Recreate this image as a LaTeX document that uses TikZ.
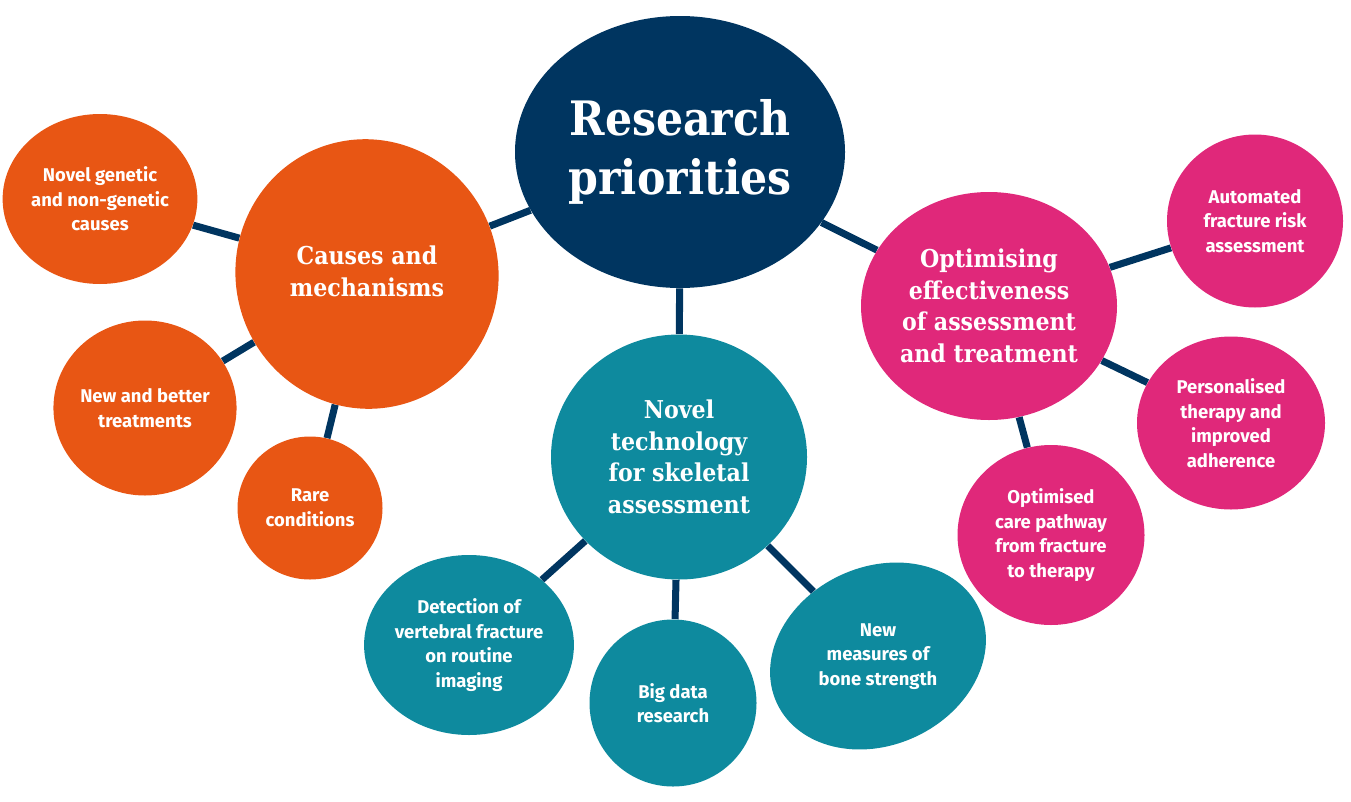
\documentclass[tikz,border=0pt]{standalone}
\usepackage{fontspec}
\setmainfont{Fira Sans}
\newfontfamily\slab{DejaVu Serif Condensed}
\usetikzlibrary{shapes.geometric,backgrounds}
\definecolor{navy}{HTML}{003560}
\definecolor{orng}{HTML}{E85614}
\definecolor{pnk}{HTML}{E0287A}
\definecolor{teal}{HTML}{0E8A9E}
\begin{document}
\begin{tikzpicture}[x=0.02cm,y=-0.02cm,
  blob/.style={ellipse,inner sep=0pt,text=white,align=center},
  small/.style={blob,font=\fontsize{10.5}{14}\selectfont\bfseries},
  big/.style={blob,font=\slab\fontsize{14}{18}\selectfont\bfseries},
  link/.style={navy,line width=4pt}]
\useasboundingbox (0,0) rectangle (1351,801);
\node[blob,fill=navy,minimum width=330*0.02cm,minimum height=272*0.02cm,font=\slab\fontsize{27}{34}\selectfont\bfseries] (rp) at (680,152) {Research\\priorities};
\node[big,fill=orng,minimum width=270*0.02cm,minimum height=225*0.02cm,rotate=-75] (cm) at (367,274) {\rotatebox{75}{\begin{tabular}{c}Causes and\\mechanisms\end{tabular}}};
\node[small,fill=orng,minimum width=188*0.02cm,minimum height=170*0.02cm] (ng) at (100,199) {Novel genetic\\and non-genetic\\causes};
\node[small,fill=orng,minimum width=178*0.02cm,minimum height=175*0.02cm] (nb) at (145,408) {New and better\\treatments};
\node[small,fill=orng,minimum width=145*0.02cm,minimum height=143*0.02cm] (rc) at (310,508) {Rare\\conditions};
\node[big,fill=teal,minimum width=256*0.02cm,minimum height=245*0.02cm] (nt) at (679,457) {Novel\\technology\\for skeletal\\assessment};
\node[small,fill=teal,minimum width=200*0.02cm,minimum height=180*0.02cm] (dv) at (469,645) {Detection of\\vertebral fracture\\on routine\\imaging};
\node[small,fill=teal,minimum width=167*0.02cm,minimum height=167*0.02cm] (bd) at (673,703) {Big data\\research};
\node[small,fill=teal,minimum width=195*0.02cm,minimum height=158*0.02cm,rotate=25] (nm) at (878,656) {\rotatebox{-25}{\begin{tabular}{c}New\\measures of\\bone strength\end{tabular}}};
\node[big,fill=pnk,minimum width=256*0.02cm,minimum height=228*0.02cm] (oe) at (989,306) {Optimising\\effectiveness\\of assessment\\and treatment};
\node[small,fill=pnk,minimum width=176*0.02cm,minimum height=173*0.02cm] (af) at (1255,221) {Automated\\fracture risk\\assessment};
\node[small,fill=pnk,minimum width=188*0.02cm,minimum height=173*0.02cm] (pt) at (1231,423) {Personalised\\therapy and\\improved\\adherence};
\node[small,fill=pnk,minimum width=187*0.02cm,minimum height=180*0.02cm] (oc) at (1051,535) {Optimised\\care pathway\\from fracture\\to therapy};
\begin{scope}[on background layer]
\draw[link] (rp)--(cm); \draw[link] (rp)--(nt); \draw[link] (rp)--(oe);
\draw[link] (cm)--(ng); \draw[link] (cm)--(nb); \draw[link] (cm)--(rc);
\draw[link] (nt)--(dv); \draw[link] (nt)--(bd); \draw[link] (nt)--(nm);
\draw[link] (oe)--(af); \draw[link] (oe)--(pt); \draw[link] (oe)--(oc);
\end{scope}
\end{tikzpicture}
\end{document}
